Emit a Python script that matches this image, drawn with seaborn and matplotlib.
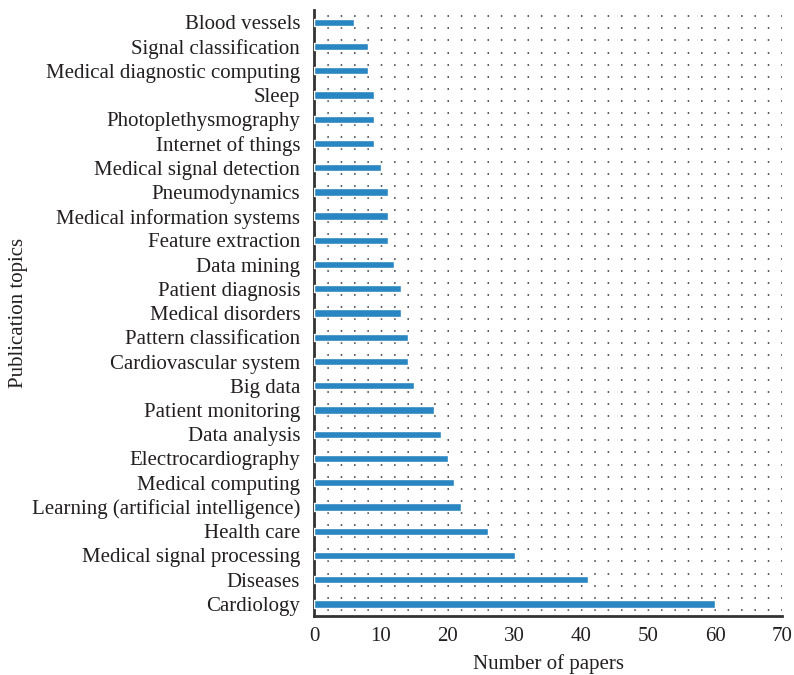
import numpy as np
import pandas as pd
import seaborn as sns
from matplotlib import pyplot as plt

topics = ['Blood vessels', 'Signal classification', 'Medical diagnostic computing', 'Sleep',
          'Photoplethysmography', 'Internet of things', 'Medical signal detection',
          'Pneumodynamics', 'Medical information systems', 'Feature extraction',
          'Data mining', 'Patient diagnosis', 'Medical disorders', 'Pattern classification',
          'Cardiovascular system', 'Big data', 'Patient monitoring', 'Data analysis',
          'Electrocardiography', 'Medical computing', 'Learning (artificial intelligence)',
          'Health care', 'Medical signal processing', 'Diseases', 'Cardiology']
papers = [6, 8, 8, 9, 9, 9, 10, 11, 11, 11, 12, 13, 13, 14, 14, 15, 18, 19, 20,
          21, 22, 26, 30, 41, 60]
xticks = [0, 10, 20, 30, 40, 50, 60, 70]

df = pd.DataFrame({'Topic': topics, 'Papers': papers})

sns.set_style('white')
plt.rcParams['font.family'] = ['Liberation Serif', 'DejaVu Serif']
plt.rcParams['lines.scale_dashes'] = False
text_col = '#231f20'

dpi = 100
fig = plt.figure(figsize=(7.94, 6.75), dpi=dpi)
left, right, bottom, top = 0.3955, 0.985, 0.0874, 0.985
ax = fig.add_axes([left, bottom, right - left, top - bottom])

sns.barplot(data=df, x='Papers', y='Topic', orient='h', color='#2a86c2',
            saturation=1, width=0.3, ax=ax, zorder=3)

ax.set_xticks(xticks)
# dotted grid: a dot every 2 papers, a row every half category
ax.set_yticks(np.arange(-0.25, len(topics), 0.5), minor=True)
ax.set_xlim(0, 70)
ax.set_ylim(len(topics) - 0.5, -0.5)

width_px = 7.94 * dpi * (right - left)
period_pt = width_px / 35 * 72 / dpi * 0.998
on = 1.1
ax.grid(False)
ax.grid(True, which='minor', axis='y', color='#5a5a5a',
        linestyle=(0, (on, period_pt - on)), linewidth=1.4, zorder=0)
ax.set_axisbelow(True)

for s in ['top', 'right']:
    ax.spines[s].set_visible(False)
for s in ['left', 'bottom']:
    ax.spines[s].set_color('#333333')
    ax.spines[s].set_linewidth(2)

ax.tick_params(axis='both', which='both', length=0, labelsize=15, colors=text_col)
ax.tick_params(axis='y', pad=10)
ax.tick_params(axis='x', pad=8)
ax.set_xlabel('Number of papers', fontsize=15, color=text_col, labelpad=6)
ax.set_ylabel('Publication topics', fontsize=15, color=text_col, labelpad=3)

fig.savefig('out.png', dpi=dpi)
